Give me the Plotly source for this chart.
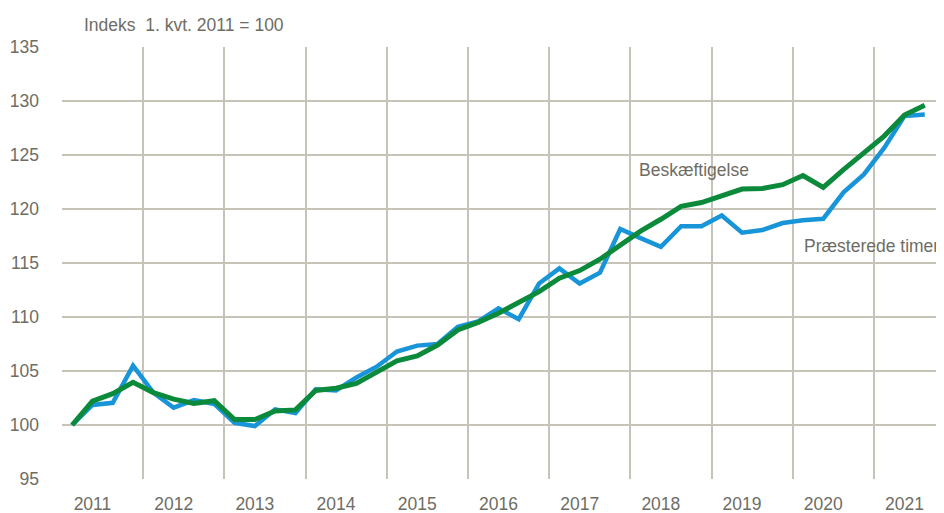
import plotly.graph_objects as go

# Quarters 2011K1 .. 2021K3
years = list(range(2011, 2022))
quarters = [f"{y}K{q}" for y in years for q in range(1, 5)][:43]

praesterede_timer = [
    100.0, 101.85, 102.05, 105.5, 103.0, 101.6, 102.3, 101.95,
    100.2, 99.9, 101.45, 101.1, 103.3, 103.2, 104.4, 105.4,
    106.8, 107.35, 107.5, 109.1, 109.6, 110.8, 109.8, 113.1,
    114.5, 113.1, 114.1, 118.15, 117.3, 116.5, 118.4, 118.4,
    119.4, 117.8, 118.05, 118.7, 118.95, 119.1, 121.55, 123.2,
    125.65, 128.6, 128.75,
]
beskaeftigelse = [
    100.0, 102.2, 102.9, 103.95, 103.0, 102.4, 102.0, 102.25,
    100.5, 100.5, 101.3, 101.4, 103.2, 103.4, 103.85, 104.95,
    105.95, 106.4, 107.4, 108.8, 109.5, 110.35, 111.35, 112.35,
    113.6, 114.3, 115.35, 116.6, 117.95, 119.05, 120.25, 120.6,
    121.25, 121.85, 121.9, 122.25, 123.1, 122.0, 123.65, 125.25,
    126.75, 128.7, 129.6,
]
y_ticks = [95, 100, 105, 110, 115, 120, 125, 130, 135]
year_labels = [str(y) for y in years]


def qpos(label):
    y, q = label.split("K")
    return int(y) + (int(q) - 0.5) / 4


x = [qpos(q) for q in quarters]

FONT = "Liberation Sans, Arial, sans-serif"
FS = 17.5
TXT = "#6e6d64"
GRID = "#c6c3b9"

# page body has an 8px margin: figure occupies 8..944 x 8..513
W, H = 936, 505
L, T, B = 54, 39, 34
PW = W - L
PH = H - T - B

fig = go.Figure()
fig.add_trace(go.Scatter(x=x, y=praesterede_timer, mode="lines", name="Præsterede timer",
                         line=dict(color="#1795d8", width=4.5), hoverinfo="skip"))
fig.add_trace(go.Scatter(x=x, y=beskaeftigelse, mode="lines", name="Beskæftigelse",
                         line=dict(color="#0b8a3b", width=5), hoverinfo="skip"))

fig.add_shape(type="line", xref="paper", x0=0, x1=1, yref="y", y0=100, y1=100,
              line=dict(color="#7b786d", width=2), layer="between")

fig.update_layout(
    width=W, height=H,
    margin=dict(l=L, r=0, t=T, b=B),
    paper_bgcolor="white", plot_bgcolor="white",
    showlegend=False,
    font=dict(family=FONT, color=TXT, size=FS),
    xaxis=dict(
        range=[2011, 2011 + PW / 81.2],
        tickvals=[y + 0.375 for y in years],
        ticktext=year_labels,
        showgrid=False, zeroline=False, showline=False, ticks="",
        ticklabelstandoff=12,
        tickfont=dict(size=FS, color=TXT, family=FONT),
        minor=dict(tickvals=years, showgrid=True, gridcolor=GRID, gridwidth=1.5, ticks=""),
    ),
    yaxis=dict(
        range=[95, 135],
        tickvals=y_ticks,
        showgrid=True, gridcolor=GRID, gridwidth=1.5,
        zeroline=False, showline=False, ticks="",
        ticklabelstandoff=22,
        tickfont=dict(size=FS, color=TXT, family=FONT),
    ),
    annotations=[
        dict(text="Indeks\u00a0\u00a01. kvt. 2011 = 100", xref="paper", yref="paper",
             x=(82 - 62) / PW, y=1 + (47 - 25) / PH, xanchor="left", yanchor="middle",
             showarrow=False, font=dict(size=FS, color=TXT, family=FONT)),
        dict(text="Beskæftigelse", xref="x", yref="y", x=2018.078, y=123.59,
             xanchor="left", yanchor="middle", showarrow=False,
             font=dict(size=FS, color=TXT, family=FONT)),
        dict(text="Præsterede timer", xref="x", yref="y", x=2020.11, y=116.54,
             xanchor="left", yanchor="middle", showarrow=False,
             font=dict(size=FS, color=TXT, family=FONT)),
    ],
)

fig.write_html("out.html")
